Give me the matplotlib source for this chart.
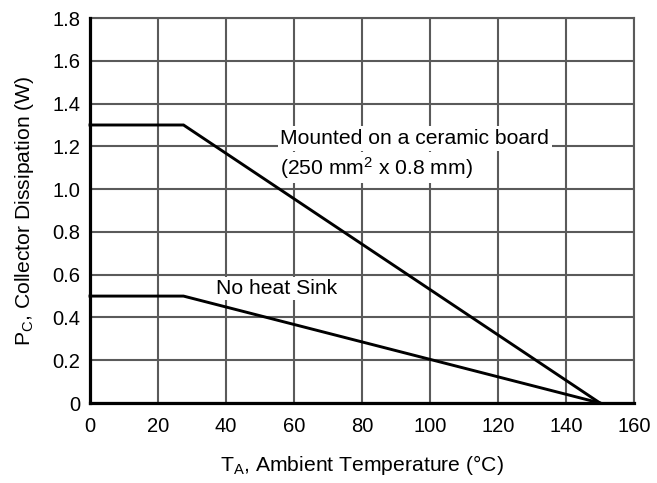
import matplotlib
matplotlib.use("Agg")
import matplotlib.pyplot as plt

plt.rcParams['font.family'] = ['Liberation Sans', 'DejaVu Sans']
plt.rcParams['mathtext.fontset'] = 'custom'
plt.rcParams['mathtext.rm'] = 'Liberation Sans'
plt.rcParams['mathtext.it'] = 'Liberation Sans'
plt.rcParams['mathtext.default'] = 'rm'

# derating curves: temperature (°C) vs allowed collector dissipation (W)
temp_ceramic = [0, 27.5, 150]
pc_ceramic = [1.3, 1.3, 0]
temp_no_sink = [0, 27.5, 150]
pc_no_sink = [0.5, 0.5, 0]

x_ticks = [0, 20, 40, 60, 80, 100, 120, 140, 160]
y_ticks = [0, 0.2, 0.4, 0.6, 0.8, 1.0, 1.2, 1.4, 1.6, 1.8]
y_tick_labels = ["0", "0.2", "0.4", "0.6", "0.8", "1.0", "1.2", "1.4", "1.6", "1.8"]

fig = plt.figure(figsize=(6.57, 4.83), dpi=100)
ax = fig.add_axes([0.137, 0.1656, 0.828, 0.797])

ax.set_xlim(0, 160)
ax.set_ylim(0, 1.8)
ax.set_xticks(x_ticks)
ax.set_yticks(y_ticks)
ax.set_yticklabels(y_tick_labels)
ax.tick_params(length=0, labelsize=14.5, colors='black')
ax.tick_params(axis='x', pad=10)
ax.tick_params(axis='y', pad=7)

ax.grid(True, color='#5a5a5a', linewidth=1.5)
ax.set_axisbelow(True)

for side in ['left', 'bottom']:
    ax.spines[side].set_linewidth(2.3)
    ax.spines[side].set_color('black')
    ax.spines[side].set_zorder(5)
for side in ['top', 'right']:
    ax.spines[side].set_linewidth(1.5)
    ax.spines[side].set_color('#5a5a5a')

ax.plot(temp_ceramic, pc_ceramic, color='black', linewidth=2.1, zorder=3,
        solid_joinstyle='miter', clip_on=False)
ax.plot(temp_no_sink, pc_no_sink, color='black', linewidth=2.1, zorder=3,
        solid_joinstyle='miter', clip_on=False)

# white boxes behind the curve labels hide the grid
box = dict(facecolor='white', edgecolor='none', pad=2)
ax.text(56, 1.236, "Mounted on a ceramic board", fontsize=15.2,
        va='center', ha='left', bbox=box, zorder=2)
ax.text(56, 1.10, "(250 mm$^{2}$ x 0.8 mm)", fontsize=15.2,
        va='center', ha='left', bbox=box, zorder=2)
ax.text(37, 0.536, "No heat Sink", fontsize=15.2, va='center', ha='left',
        bbox=dict(facecolor='white', edgecolor='none', pad=1.5), zorder=2)

ax.set_xlabel("T$_{A}$, Ambient Temperature (°C)", fontsize=15.2, labelpad=12)
ax.set_ylabel("P$_{C}$, Collector Dissipation (W)", fontsize=15.2, labelpad=12)

fig.savefig("out.png", dpi=100)
